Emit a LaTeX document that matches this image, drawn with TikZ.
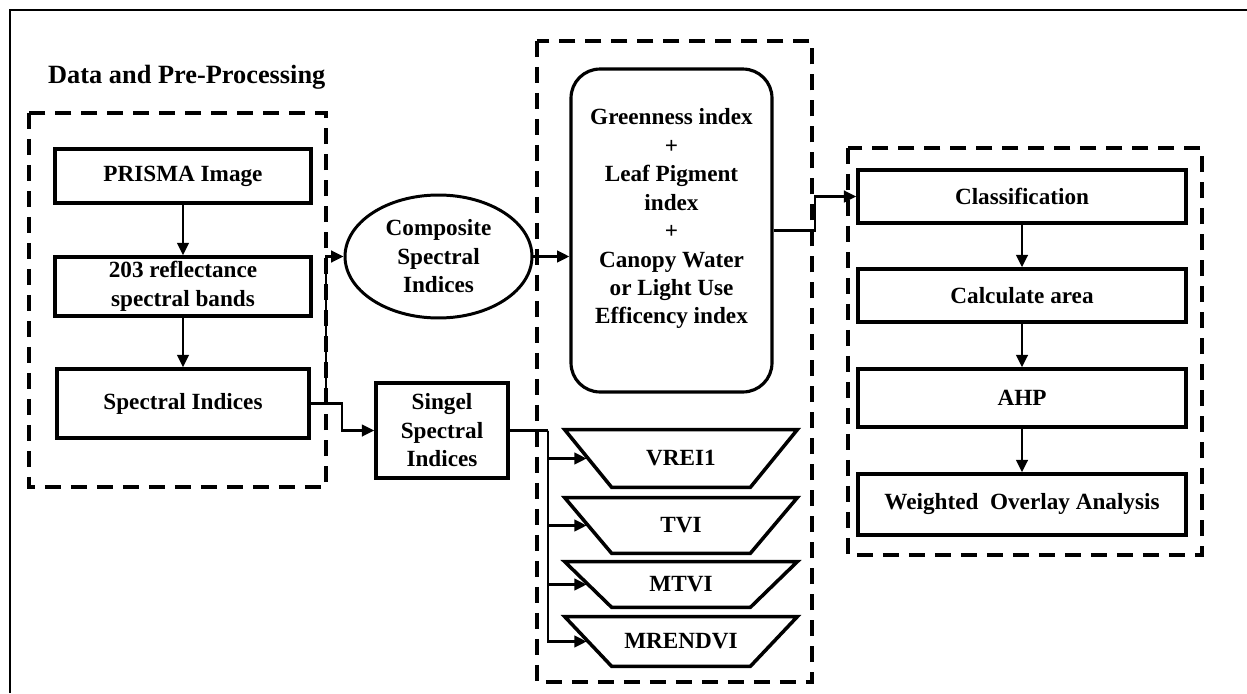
\documentclass[tikz,border=0pt]{standalone}
\usepackage{fontspec}
\setmainfont{Liberation Serif}
\usetikzlibrary{shapes.geometric,arrows.meta,calc}
\begin{document}
\begin{tikzpicture}[x=0.02cm,y=-0.02cm,
  txt/.style={font=\fontsize{13.2}{16.2}\selectfont\bfseries, align=center, text=black},
  box/.style={txt, draw, line width=2pt, inner sep=2pt},
  grp/.style={draw, line width=1.9pt, dash pattern=on 0.32cm off 0.2cm},
  arr/.style={line width=1.6pt, -{Triangle[length=7pt,width=6.5pt]}},
  ln/.style={line width=1.6pt},
  trap/.style={txt, minimum width=4.64cm, inner sep=0pt},
  trapline/.style={draw, line width=2pt, line join=miter}
]
\useasboundingbox (0,0) rectangle (1247,693);
% outer frame
\draw[line width=1.4pt] (10,693) -- (10,10) -- (1247,10);

% title
\node[anchor=base west, font=\fontsize{15}{18}\selectfont\bfseries] (title) at (42,83) {Data and Pre-Processing};

% group frames
\draw[grp] (29,113) rectangle (326,487);
\draw[grp] (537,41) rectangle (812,682);
\draw[grp] (848,148) rectangle (1202,555);

% left column
\node[box, minimum width=5.12cm, minimum height=1.08cm] (prisma) at (183,176) {PRISMA Image};
\node[box, minimum width=5.12cm, minimum height=1.18cm] (refl) at (183,286.5) {203 reflectance\\spectral bands};
\node[box, minimum width=5.04cm, minimum height=1.38cm] (si) at (183,403.5) {Spectral Indices};

% middle
\node[txt, draw, ellipse, line width=1.7pt, minimum width=3.74cm, minimum height=2.46cm, inner sep=0pt] (comp) at (438.5,256.5) {Composite\\Spectral\\Indices};
\node[box, minimum width=2.64cm, minimum height=1.9cm] (sing) at (442,430.5) {Singel\\Spectral\\Indices};

\node[txt, draw, rounded corners=0.58cm, line width=1.8pt, minimum width=4.02cm, minimum height=6.46cm] (rbox) at (671.5,230.5)
  {Greenness index\\+\\Leaf Pigment\\index\\+\\Canopy Water\\or Light Use\\Efficency index\\\mbox{}};

% trapezoids (text nodes + outlines)
\node[trap, minimum height=1.14cm] (vrei) at (681,458.5) {VREI1};
\node[trap, minimum height=1.1cm] (tvi) at (681,525.5) {TVI};
\node[trap, minimum height=0.9cm] (mtvi) at (681,584.5) {MTVI};
\node[trap, minimum height=0.98cm] (mren) at (681,641.5) {MRENDVI};
\foreach \n in {vrei,tvi,mtvi,mren}{
  \draw[trapline] (\n.north west) -- (\n.north east) -- ([xshift=-0.94cm]\n.south east)
    -- ([xshift=0.94cm]\n.south west) -- cycle;
  \coordinate (\n-in) at ([xshift=0.44cm]\n.west);
}

% right column
\node[box, minimum width=6.56cm, minimum height=1.06cm] (cls) at (1022,196.5) {Classification};
\node[box, minimum width=6.56cm, minimum height=1.06cm] (area) at (1022,295.5) {Calculate area};
\node[box, minimum width=6.56cm, minimum height=1.16cm] (ahp) at (1022,398) {AHP};
\node[box, minimum width=6.56cm, minimum height=1.22cm] (wo) at (1022,504.5) {Weighted\ \ Overlay Analysis};

% junction points
\coordinate (j1) at (326,403.5);
\coordinate (j2) at (342,403.5);
\coordinate (j3) at (815,230.5);
\coordinate (j4) at (548,430.5);

% connectors
\draw[arr] (prisma) -- (refl);
\draw[arr] (refl) -- (si);
\draw[arr] (si.east) -- (j1) |- (comp.west);
\draw[arr] (j1) -- (j2) |- (sing.west);
\draw[arr] (comp.east) -- (comp.east -| rbox.west);
\draw[arr] (rbox.east) -- (j3) |- (cls.west);
\draw[ln] (sing.east) -- (j4);
\draw[arr] (j4) |- (vrei-in);
\draw[arr] (j4) |- (tvi-in);
\draw[arr] (j4) |- (mtvi-in);
\draw[arr] (j4) |- (mren-in);
\draw[arr] (cls) -- (area);
\draw[arr] (area) -- (ahp);
\draw[arr] (ahp) -- (wo);
\end{tikzpicture}
\end{document}
